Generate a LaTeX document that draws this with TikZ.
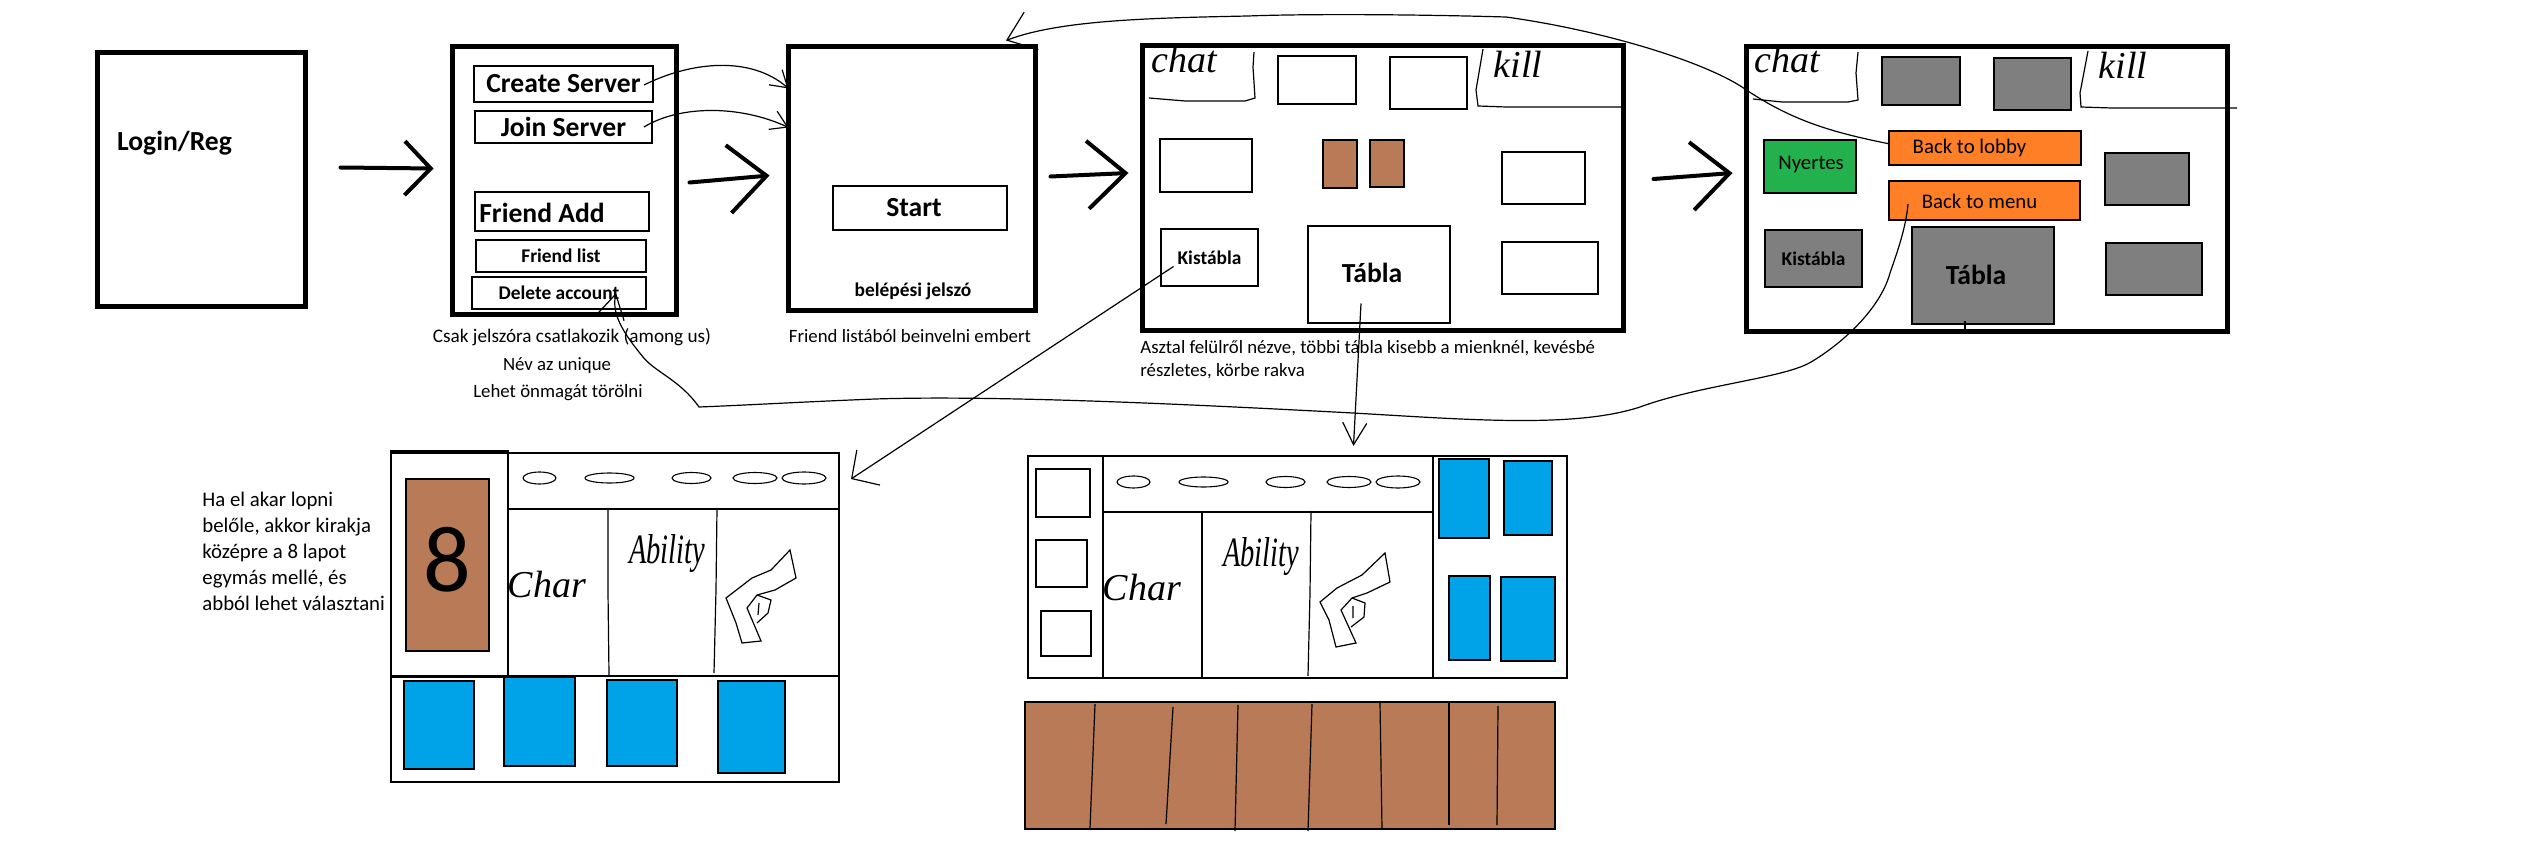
\documentclass[tikz,border=0pt]{standalone}
\usepackage{fontspec}
\setmainfont{Carlito}
\newfontfamily\handfont{Liberation Serif}
\usetikzlibrary{arrows.meta,shapes.geometric}
\definecolor{woodbrown}{HTML}{B97A57}
\definecolor{cardblue}{HTML}{00A2E8}
\definecolor{dimgray}{HTML}{7F7F7F}
\definecolor{btnorange}{HTML}{FF7F27}
\definecolor{wingreen}{HTML}{22B14C}

\begin{document}
\begin{tikzpicture}[
  x=0.5pt, y=-0.5pt,
  sz/.style 2 args={minimum width=#1*0.5pt, minimum height=#2*0.5pt},
  screen/.style={draw, line width=2.5pt, inner sep=0pt, outer sep=0pt},
  panel/.style={draw, line width=0.55pt, inner sep=0pt, outer sep=0pt},
  wood/.style={panel, fill=woodbrown},
  card/.style={panel, fill=cardblue},
  dim/.style={panel, fill=dimgray},
  chip/.style={panel, ellipse},
  note/.style={inner sep=0pt, font=\fontsize{9.4}{11}\selectfont},
  btntxt/.style={inner sep=0pt, font=\fontsize{10.4}{12}\selectfont},
  big/.style={inner sep=0pt, font=\fontsize{13.8}{16}\selectfont\bfseries},
  mid/.style={inner sep=0pt, font=\fontsize{9.7}{11}\selectfont\bfseries},
  hand/.style={inner sep=0pt, font=\fontsize{19}{21}\selectfont\handfont\itshape},
  narrowhand/.style={hand, xscale=.75, yscale=1.1, transform shape},
  wire/.style={line width=0.6pt},
  gofwd/.style={line width=2pt, line cap=round, -{Straight Barb[length=19pt, width=34pt, line width=2pt]}},
  stroke/.style={line width=0.6pt}]
  \useasboundingbox (0,0) rectangle (2532,850);

  % login and menu screens
  \node[screen, sz={208}{254}] (login) at (201.5,179.5) {};
  \node[big] (logintxt) at (174.5,143) {Login/Reg};
  \node[screen, sz={224}{268}] (servers) at (564.5,180.5) {};
  \node[panel, sz={179}{36}, big] (create) at (563.5,84) {Create Server};
  \node[panel, sz={177}{32}, big] (join) at (563.5,127) {Join Server};
  \node[panel, sz={174}{39}] (friendadd) at (562,211.5) {};
  \node[big] (friendaddtxt) at (542,213) {Friend Add};
  \node[panel, sz={170}{32}, mid] (friendlist) at (561,256) {Friend list};
  \node[panel, sz={174}{32}, mid] (delete) at (559,293) {Delete account};
  \node[note, font=\fontsize{9.6}{11}\selectfont] (csak) at (572,337) {Csak jelszóra csatlakozik (among us)};
  \node[note] (nev) at (557,366) {Név az unique};
  \node[note] (lehet) at (558,393) {Lehet önmagát törölni};

  % lobby screen
  \node[screen, sz={247}{264}] (lobby) at (912,178.5) {};
  \node[panel, sz={174}{44}] (start) at (920,208) {};
  \node[big] (starttxt) at (914,208) {Start};
  \node[mid] (jelszo) at (913,291) {belépési jelszó};
  \node[note] (invite) at (910,336) {Friend listából beinvelni embert};

  % table screen
  \node[screen, sz={481}{285}] (table) at (1383,188) {};
  \node[hand] (chatA) at (1184,60) {chat};
  \draw[stroke] (1254,52) -- (1253,67) -- (1255,98) -- (1245,101) -- (1185,101) -- (1149,98);
  \node[panel, sz={78}{48}] (topA) at (1317,80) {};
  \node[panel, sz={77}{52}] (topB) at (1428.5,83) {};
  \draw[stroke] (1483,49) -- (1476,90) -- (1478,106) -- (1506,107) -- (1621,107);
  \node[hand] (killA) at (1518,64) {kill};
  \node[panel, sz={92}{53}] (leftA) at (1206,165.5) {};
  \node[wood, sz={34}{48}] (deckA) at (1340,164) {};
  \node[wood, sz={34}{47}] (deckB) at (1387,163.5) {};
  \node[panel, sz={83}{52}] (rightA) at (1543.5,178) {};
  \node[panel, sz={97}{57}, mid] (kistabla) at (1209.5,257.5) {Kistábla};
  \node[panel, sz={142}{97}] (tabla) at (1379,274.5) {};
  \node[big] (tablatxt) at (1372,273) {Tábla};
  \node[panel, sz={96}{52}] (rightB) at (1550,268) {};
  \node[note, anchor=west] (asztal) at (1140,348) {Asztal felülről nézve, többi tábla kisebb a mienknél, kevésbé};
  \node[note, anchor=west] (reszletes) at (1140,371) {részletes, körbe rakva};

  % end screen
  \node[screen, sz={481}{285}] (end) at (1987,189) {};
  \node[hand] (chatB) at (1787,60) {chat};
  \draw[stroke] (1858,52) -- (1856,73) -- (1858,100) -- (1848,102) -- (1782,102) -- (1753,99);
  \node[dim, sz={78}{48}] (topC) at (1921,81) {};
  \node[dim, sz={77}{52}] (topD) at (2032.5,84) {};
  \draw[stroke] (2088,51) -- (2080,93) -- (2081,107) -- (2112,108) -- (2237,108);
  \node[hand] (killB) at (2123,65) {kill};
  \node[panel, sz={192}{34}, fill=btnorange] (backlobby) at (1985,148) {};
  \node[btntxt] (backlobbytxt) at (1969.5,148) {Back to lobby};
  \node[panel, sz={191}{39}, fill=btnorange] (backmenu) at (1984.5,200.5) {};
  \node[btntxt] (backmenutxt) at (1979.5,201) {Back to menu};
  \node[panel, sz={92}{53}, fill=wingreen] (winner) at (1810,166.5) {};
  \node[btntxt] (winnertxt) at (1811,165) {Nyertes};
  \node[dim, sz={84}{52}] (rightC) at (2147,179) {};
  \node[dim, sz={97}{57}, mid] (kistablaB) at (1813.5,258.5) {Kistábla};
  \node[dim, sz={142}{97}] (tablaB) at (1983,275.5) {};
  \node[big] (tablaBtxt) at (1976,275) {Tábla};
  \node[dim, sz={96}{52}] (rightD) at (2154,269) {};
  \draw[stroke] (1965,321) -- (1965,329);

  % own board
  \node[panel, sz={448}{329}] (boardA) at (615,617.5) {};
  \node[panel, sz={117}{226}] (sideA) at (449.5,564) {};
  \node[panel, sz={331}{56}] (barA) at (673.5,481) {};
  \node[wood, sz={83}{172}] (eight) at (447.5,565) {};
  \node[inner sep=0pt, font=\fontsize{47}{50}\selectfont] (eighttxt) at (447,560) {8};
  \draw[line width=1.2pt] (391,676) -- (839,676);
  \draw[stroke] (608,508) -- (608,592) -- (609,675);
  \draw[stroke] (717,508) -- (716,590) -- (714,673);
  \node[chip, sz={33}{12}] (ea1) at (539.5,478) {};
  \node[chip, sz={49}{10}] (ea2) at (609.5,478) {};
  \node[chip, sz={39}{11}] (ea3) at (691.5,478) {};
  \node[chip, sz={44}{11}] (ea4) at (755,478) {};
  \node[chip, sz={44}{12}] (ea5) at (804,478) {};
  \node[hand] (charA) at (547,585) {Char};
  \node[narrowhand] (abilityA) at (667,554) {Ability};
  \draw[stroke] (726,598) -- (752,578) -- (771,570) -- (790,550) -- (796,578) -- (775,590) -- (757,595)
    -- (747,608) -- (761,641) -- (742,643) -- (736,623) -- cycle;
  \draw[stroke] (757,595) -- (771,600) -- (768,613) -- (757,623) (759,603) -- (758,615);
  \node[card, sz={70}{88}] (ca1) at (439,725) {};
  \node[card, sz={71}{89}] (ca2) at (539.5,721.5) {};
  \node[card, sz={70}{86}] (ca3) at (642,723) {};
  \node[card, sz={67}{92}] (ca4) at (751.5,727) {};
  \node[note, align=left, anchor=north west, font=\fontsize{10.4}{13}\selectfont] (steal) at (202,492)
    {Ha el akar lopni\\ belőle, akkor kirakja\\ középre a 8 lapot\\ egymás mellé, és\\ abból lehet választani};

  % other board and the row of eight
  \node[panel, sz={539}{222}] (boardB) at (1297.5,567) {};
  \node[panel, sz={330}{56}] (barB) at (1268,484) {};
  \draw[stroke] (1103,456) -- (1103,677);
  \draw[stroke] (1433,456) -- (1433,678);
  \node[panel, sz={54}{48}] (sqA) at (1063,493) {};
  \node[panel, sz={51}{47}] (sqB) at (1061.5,563.5) {};
  \node[panel, sz={50}{45}] (sqC) at (1066,633.5) {};
  \draw[stroke] (1202,511) -- (1202,595) -- (1202,678);
  \draw[stroke] (1311,511) -- (1310,593) -- (1308,676);
  \node[chip, sz={33}{12}] (eb1) at (1133.5,482) {};
  \node[chip, sz={49}{10}] (eb2) at (1203.5,482) {};
  \node[chip, sz={39}{11}] (eb3) at (1285.5,482) {};
  \node[chip, sz={44}{11}] (eb4) at (1349,482) {};
  \node[chip, sz={44}{12}] (eb5) at (1398,482) {};
  \node[hand] (charB) at (1142,588) {Char};
  \node[narrowhand] (abilityB) at (1261,557) {Ability};
  \draw[stroke] (1320,602) -- (1337,588) -- (1362,575) -- (1385,553) -- (1390,582) -- (1367,593) -- (1352,598)
    -- (1341,610) -- (1356,643) -- (1336,647) -- (1329,620) -- cycle;
  \draw[stroke] (1352,598) -- (1365,603) -- (1364,617) -- (1351,627) (1353,606) -- (1353,618);
  \node[card, sz={50}{79}] (cb1) at (1464,498.5) {};
  \node[card, sz={48}{74}] (cb2) at (1528,498) {};
  \node[card, sz={41}{84}] (cb3) at (1469.5,618) {};
  \node[card, sz={54}{84}] (cb4) at (1528,619) {};
  \node[wood, sz={530}{127}] (row) at (1290,765.5) {};
  \draw[stroke] (1095,704) -- (1090,828);
  \draw[stroke] (1173,707) -- (1166,824);
  \draw[stroke] (1238,705) -- (1235,831);
  \draw[stroke] (1312,704) -- (1308,831);
  \draw[stroke] (1380,703) -- (1382,829);
  \draw[stroke] (1449,703) -- (1449,825);
  \draw[stroke] (1498,706) -- (1497,825);

  % screen to screen
  \draw[gofwd, -{Straight Barb[length=13pt, width=27pt, line width=2pt]}]
    ([shift={(35,-12)}]login.east) -- ([shift={(-19,-12)}]servers.west);
  \draw[gofwd] ([shift={(13,2)}]servers.east) -- ([shift={(-19,-3)}]lobby.west);
  \draw[gofwd] ([shift={(15,-2)}]lobby.east) -- ([shift={(-14,-15)}]table.west);
  \draw[gofwd] ([shift={(30,-9)}]table.east) -- ([shift={(-14,-16)}]end.west);

  % hand drawn links
  \draw[wire, -{Straight Barb[length=8pt, width=10pt]}] ([shift={(-9,1)}]create.east)
    .. controls (690,62) and (750,55) .. ([shift={(0,-90)}]lobby.west);
  \draw[wire, -{Straight Barb[length=8pt, width=10pt]}] ([shift={(-8,0)}]join.east)
    .. controls (680,105) and (740,105) .. ([shift={(0,-51)}]lobby.west);
  \draw[wire, -{Straight Barb[length=10pt, width=21pt]}] ([shift={(-36,9)}]kistabla.center) -- ([shift={(12,26)}]boardA.north east);
  \draw[wire, -{Straight Barb[length=11pt, width=12pt]}] ([shift={(-18,29)}]tabla.center) -- ([shift={(56,-10)}]boardB.north);
  \draw[wire, -{Straight Barb[length=13pt, width=20pt]}] ([shift={(1,-4)}]backlobby.west)
    .. controls (1830,132) and (1790,120) .. (1742,87)
    .. controls (1700,60) and (1600,30) .. (1506,17)
    .. controls (1400,14) and (1300,14) .. (1248,16)
    .. controls (1150,18) and (1060,20) .. ([shift={(94,-6)}]lobby.north);
  \draw[wire, -{Straight Barb[length=12pt, width=14pt]}] ([shift={(19,3.5)}]backmenu.west)
    .. controls (1906,227) and (1898,250) .. (1890,273)
    .. controls (1880,310) and (1840,345) .. (1811,362)
    .. controls (1785,378) and (1700,385) .. (1640,407)
    .. controls (1570,430) and (1450,418) .. (1334,412)
    .. controls (1200,405) and (1000,395) .. (875,399)
    .. controls (800,402) and (750,405) .. (699,407)
    .. controls (680,380) and (655,372) .. (643,357)
    .. controls (625,335) and (611,315) .. ([shift={(57,0)}]delete.center);
\end{tikzpicture}
\end{document}
